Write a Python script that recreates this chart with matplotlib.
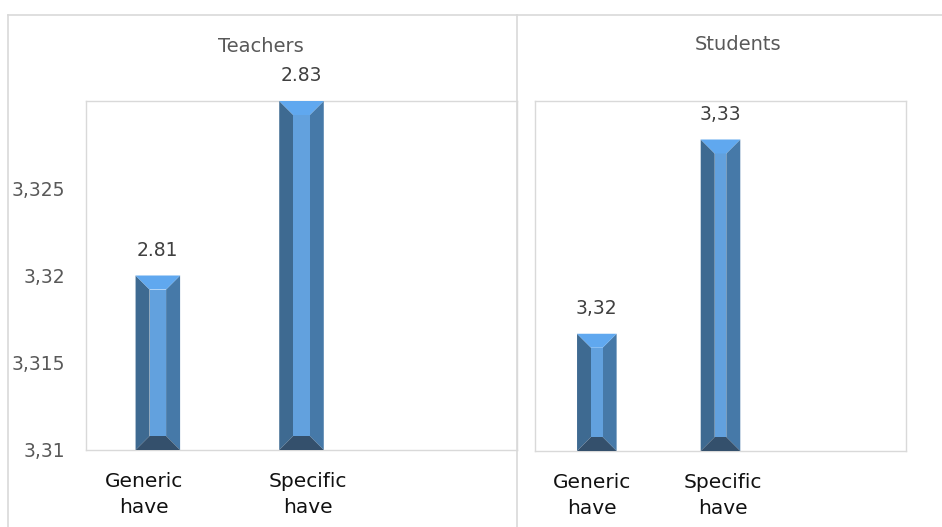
import matplotlib
matplotlib.use("Agg")
import matplotlib.pyplot as plt
import matplotlib.transforms as mtransforms
from matplotlib.lines import Line2D
from matplotlib.patches import Polygon
import numpy as np

# data
categories = ["Generic\nhave", "Specific\nhave", ""]
teachers_values = [3.320, 3.330]
teachers_labels = ["2.81", "2.83"]
students_values = [3.3167, 3.3278]
students_labels = ["3,32", "3,33"]
y_ticks = [3.31, 3.315, 3.32, 3.325]
y_tick_labels = ["3,31", "3,315", "3,32", "3,325"]
y_min, y_max = 3.31, 3.33

W, H, DPI = 942, 527, 100
GRID = "#D9D9D9"
TEXT = "#595959"

C_LEFT = "#3E6A91"
C_RIGHT = "#4679A8"
C_MID = "#62A1DE"
C_TOP = "#60A8EF"
C_BOT = "#34506C"


def bevel_bar(ax, x, h, width, base, d_px=14):
    tr = ax.transData
    (x0, y0) = tr.transform((x - width / 2, base))
    (x1, y1) = tr.transform((x + width / 2, h))
    d = d_px * DPI / 100
    pieces = [
        ([(x0, y0), (x0 + d, y0 + d), (x0 + d, y1 - d), (x0, y1)], C_LEFT),
        ([(x1, y0), (x1 - d, y0 + d), (x1 - d, y1 - d), (x1, y1)], C_RIGHT),
        ([(x0 + d, y0 + d), (x1 - d, y0 + d), (x1 - d, y1 - d), (x0 + d, y1 - d)], C_MID),
        ([(x0, y1), (x1, y1), (x1 - d, y1 - d), (x0 + d, y1 - d)], C_TOP),
        ([(x0, y0), (x1, y0), (x1 - d, y0 + d), (x0 + d, y0 + d)], C_BOT),
    ]
    inv = tr.inverted()
    for pts, col in pieces:
        ax.add_patch(Polygon(inv.transform(np.array(pts)), closed=True,
                             facecolor=col, edgecolor="none", zorder=3, clip_on=False))


def panel(ax, values, labels, title, width, title_xy, show_y, label_shift):
    xs = np.arange(len(categories))
    ax.set_xlim(-0.5, len(categories) - 0.5)
    ax.set_ylim(y_min, y_max)
    for s in ax.spines.values():
        s.set_color(GRID)
        s.set_linewidth(1)
    ax.set_xticks(xs)
    ax.set_xticklabels(categories, fontsize=14.5, color="#111111", linespacing=1.42)
    ax.tick_params(axis="x", length=0, pad=16)
    # excel wraps the category text a bit off-centre
    for lab, dx in zip(ax.get_xticklabels(), label_shift):
        lab.set_transform(lab.get_transform() +
                          mtransforms.ScaledTranslation(dx / DPI, 0, ax.figure.dpi_scale_trans))
    if show_y:
        ax.set_yticks(y_ticks)
        ax.set_yticklabels(y_tick_labels, fontsize=13.5, color=TEXT)
        ax.tick_params(axis="y", length=0, pad=15)
    else:
        ax.set_yticks([])
    for i, (v, lab) in enumerate(zip(values, labels)):
        bevel_bar(ax, xs[i], v, width, y_min)
        ax.annotate(lab, (xs[i], v), xytext=(0, 18), textcoords="offset points",
                    ha="center", va="center", fontsize=13.5, color="#404040")
    ax.figure.text(title_xy[0] / W, 1 - title_xy[1] / H, title, ha="center", va="center",
                   fontsize=14, color=TEXT)


fig = plt.figure(figsize=(W / DPI, H / DPI), dpi=DPI)
fig.patch.set_facecolor("white")


def box(l, t, r, b):
    return [l / W, 1 - b / H, (r - l) / W, (b - t) / H]


ax1 = fig.add_axes(box(86, 101, 517, 450))
ax2 = fig.add_axes(box(535, 101, 906, 451))

panel(ax1, teachers_values, teachers_labels, "Teachers", 0.31, (261, 47), True, [-14, 6, 0])
panel(ax2, students_values, students_labels, "Students", 0.32, (738, 44), False, [-5, 2, 0])

# outer chart frames
fig.add_artist(Line2D([8 / W, 1], [1 - 15 / H] * 2, color=GRID, lw=1.2))
fig.add_artist(Line2D([8 / W] * 2, [0, 1 - 15 / H], color=GRID, lw=1.2))
fig.add_artist(Line2D([517 / W] * 2, [0, 1 - 15 / H], color=GRID, lw=1.2))

fig.savefig("out.png", dpi=DPI)
